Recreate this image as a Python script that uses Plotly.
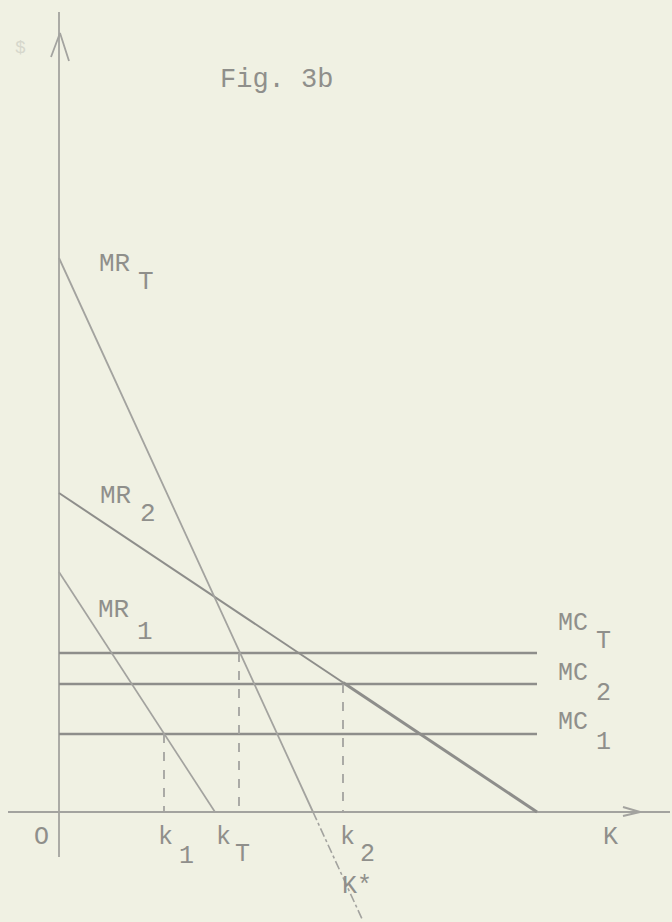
import plotly.graph_objects as go

# ---- data (economic diagram units) ----
mc_names = ["MC_1", "MC_2", "MC_T"]
mc_levels = [7.8, 12.8, 15.9]
mc_end = 47.8

mr_names = ["MR_1", "MR_2", "MR_T"]
mr_y_intercepts = [24.0, 31.9, 55.4]
mr_x_intercepts = [15.6, 47.8, 25.4]
mr_t_extend_to = 30.3          # MR_T continues below the K axis down to this K

k_names = ["k1", "kT", "k2"]
k_values = [10.5, 18.0, 28.4]
k_heights = [7.8, 15.9, 12.8]   # where the dashed drop-lines start

x_axis_extent = [-5.1, 61.1]
x_arrow_tip = 58.1
y_axis_extent = [-4.5, 80.0]
y_arrow_tip = 77.9

BG = "#f0f1e3"
LINE_DARK = "#8e8e8b"
LINE_LIGHT = "#a3a39f"
TEXT = "#8f8f8b"
FONT = "Liberation Mono"

fig = go.Figure()

def seg(x, y, color, width, dash="solid"):
    fig.add_trace(go.Scatter(x=x, y=y, mode="lines",
                             line=dict(color=color, width=width, dash=dash),
                             hoverinfo="skip", showlegend=False))

# axes
seg(x_axis_extent, [0, 0], LINE_LIGHT, 2.2)
seg([0, 0], y_axis_extent, LINE_LIGHT, 1.8)
# arrowheads
seg([x_arrow_tip - 1.7, x_arrow_tip, x_arrow_tip - 1.7], [0.5, 0, -0.4], LINE_LIGHT, 2)
seg([-0.8, 0.1, 1.0], [y_arrow_tip - 2.4, y_arrow_tip, y_arrow_tip - 2.8], LINE_LIGHT, 1.8)

# MC lines
for lvl in mc_levels:
    seg([0, mc_end], [lvl, lvl], LINE_DARK, 2.6)

# MR lines
mr1_a, mr2_a, mrt_a = mr_y_intercepts
mr1_b, mr2_b, mrt_b = mr_x_intercepts
seg([0, mr1_b], [mr1_a, 0], LINE_LIGHT, 1.7)
k2 = k_values[2]
mr2_at_k2 = mr2_a * (1 - k2 / mr2_b)
seg([0, k2], [mr2_a, mr2_at_k2], LINE_DARK, 2.0)
seg([k2, mr2_b], [mr2_at_k2, 0], LINE_DARK, 3.0)
seg([0, mrt_b], [mrt_a, 0], LINE_LIGHT, 1.8)
seg([mrt_b, mr_t_extend_to], [0, mrt_a * (1 - mr_t_extend_to / mrt_b)], LINE_LIGHT, 1.6, "dashdot")

# dashed drop-lines
for kv, h in zip(k_values, k_heights):
    seg([kv, kv], [h, 0], LINE_LIGHT, 1.8, "dash")

# ---- text ----
def txt(x, y, s, size=24, color=TEXT):
    fig.add_annotation(x=x, y=y, text=s, showarrow=False, xref="x", yref="y",
                       font=dict(family=FONT, size=size, color=color),
                       xanchor="center", yanchor="middle")

txt(21.7, 73.2, "Fig. 3b", 27)
txt(-3.9, 76.4, "$", 18, "#d6d7cc")

txt(5.5, 54.8, "MR", 26); txt(8.7, 53.0, "T", 26)
txt(5.6, 31.6, "MR", 26); txt(8.9, 29.8, "2", 26)
txt(5.4, 20.2, "MR", 26); txt(8.6, 18.0, "1", 26)

txt(51.4, 18.9, "MC", 25); txt(54.4, 17.1, "T", 25)
txt(51.4, 13.9, "MC", 25); txt(54.4, 11.9, "2", 25)
txt(51.4, 9.0, "MC", 25); txt(54.4, 7.0, "1", 25)

txt(-1.8, -2.5, "O", 25)
txt(10.6, -2.5, "k", 25); txt(12.7, -4.4, "1", 25)
txt(16.4, -2.5, "k", 25); txt(18.3, -4.2, "T", 25)
txt(28.8, -2.5, "k", 25); txt(30.8, -4.2, "2", 25)
txt(29.8, -7.4, "K*", 25)
txt(55.1, -2.5, "K", 25)

fig.update_layout(
    width=672, height=922,
    margin=dict(l=0, r=0, t=0, b=0),
    paper_bgcolor=BG, plot_bgcolor=BG,
    xaxis=dict(range=[-5.9, 61.3], visible=False, fixedrange=True),
    yaxis=dict(range=[-11.0, 81.2], visible=False, fixedrange=True),
    showlegend=False,
)
fig.write_html("out.html", config={"displayModeBar": False},
               post_script="document.body.style.margin='0px';")
